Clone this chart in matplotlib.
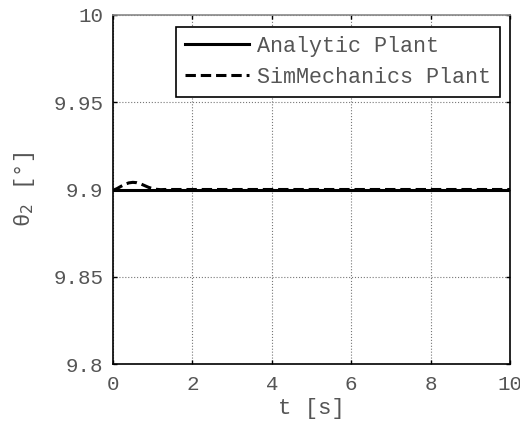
import matplotlib
matplotlib.use("Agg")
import matplotlib.pyplot as plt

t_analytic = [0.0, 10.0]
theta_analytic = [9.9, 9.9]

t_sim = [0.0, 0.1, 0.2, 0.3, 0.4, 0.5, 0.6, 0.7, 0.8, 0.9, 1.0, 1.1, 1.2, 1.3, 1.5, 2.0, 10.0]
theta_sim = [9.8995, 9.9005, 9.9018, 9.9030, 9.9038, 9.9041, 9.9039, 9.9032, 9.9022, 9.9012, 9.9005, 9.9001, 9.8999, 9.9, 9.9, 9.9, 9.9]

xticks = [0, 2, 4, 6, 8, 10]
yticks = [9.8, 9.85, 9.9, 9.95, 10]
ytick_labels = ["9.8", "9.85", "9.9", "9.95", "10"]

plt.rcParams['font.family'] = ['Liberation Mono', 'DejaVu Sans']

fig = plt.figure(figsize=(5.2, 4.21), dpi=100)
ax = fig.add_axes([113/520, 1 - 364/421, (510-113)/520, (364-15)/421])

ax.plot(t_analytic, theta_analytic, color='black', lw=2.2, label='Analytic Plant')
ax.plot(t_sim, theta_sim, color='black', lw=2.2, ls=(0, (3.4, 1.6)), label='SimMechanics Plant')

ax.set_xlim(0, 10)
ax.set_ylim(9.8, 10)
ax.set_xticks(xticks)
ax.set_xticklabels([str(v) for v in xticks])
ax.set_yticks(yticks)
ax.set_yticklabels(ytick_labels)
ax.tick_params(direction='in', length=3, width=1, labelsize=15, colors='black', labelcolor='#555555')
ax.tick_params(axis='y', pad=7)
ax.tick_params(axis='x', pad=8)
ax.tick_params(top=True, right=True)
ax.grid(True, color='#777777', ls=':', lw=0.8)
for s in ['left', 'bottom', 'right']:
    ax.spines[s].set_color('black')
    ax.spines[s].set_linewidth(1.2)
ax.spines['top'].set_color('#888888')
ax.spines['top'].set_linewidth(1.2)

ax.set_xlabel('t [s]', fontsize=16, color='#555555', labelpad=3)
ax.set_ylabel('θ$_2$ [°]', fontsize=16, color='#555555', labelpad=12)

leg = ax.legend(loc='upper right', bbox_to_anchor=(0.975, 0.966), fontsize=15.7, frameon=True,
                fancybox=False, edgecolor='black', framealpha=1, handlelength=2.93,
                borderpad=0.42, labelspacing=0.45, handletextpad=0.36, borderaxespad=0.0)
leg.get_frame().set_linewidth(1.2)
for txt in leg.get_texts():
    txt.set_color('#555555')

fig.savefig('out.png', dpi=100)
